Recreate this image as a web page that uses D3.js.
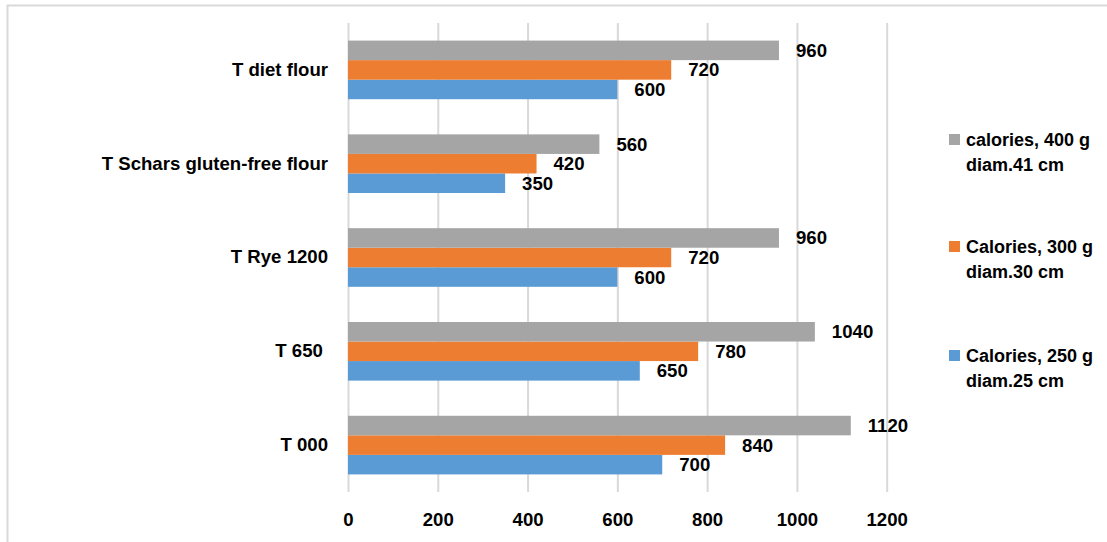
<!DOCTYPE html>
<html><head><meta charset="utf-8">
<script src="https://cdn.jsdelivr.net/npm/d3@7/dist/d3.min.js"></script>
<style>
body{margin:0;background:#fff;}
text{font-family:"Liberation Sans Narrow","Liberation Sans",Arial,sans-serif;font-weight:bold;fill:#000;}
</style></head><body>
<svg id="c" width="1107" height="542"></svg>
<script>
const categories = ["T 000", "T 650\u00a0", "T Rye 1200", "T Schars gluten-free flour", "T diet flour"];
const seriesNames = ["Calories, 250 g|diam.25 cm", "Calories, 300 g|diam.30 cm", "calories, 400 g|diam.41 cm"];
const cal250 = [700, 650, 600, 350, 600];
const cal300 = [840, 780, 720, 420, 720];
const cal400 = [1120, 1040, 960, 560, 960];
const xTicks = [0, 200, 400, 600, 800, 1000, 1200];
const colors = ["#5B9BD5", "#ED7D31", "#A5A5A5"];

(function(){
const fs = "18.6px";
const svg = d3.select("#c");
svg.append("rect").attr("x",7.5).attr("y",5.5).attr("width",1120).attr("height",560)
  .attr("fill","none").attr("stroke","#D9D9D9").attr("stroke-width",2);

const pLeft = 348, pRight = 886.7, pTop = 23, pBottom = 492;
const x = d3.scaleLinear().domain([0,1200]).range([pLeft,pRight]);
const y = d3.scaleBand().domain(categories).range([pBottom, pTop]).paddingInner(0.375).paddingOuter(0.1875);

const series = [cal250, cal300, cal400];
const inner = d3.scaleBand().domain([2,1,0]).range([0, y.bandwidth()]);

const xAxis = d3.axisBottom(x).tickValues(xTicks).tickSize(-(pBottom-pTop)).tickFormat(d3.format("d"));
const gx = svg.append("g").attr("transform",`translate(0,${pBottom})`).call(xAxis);
gx.select(".domain").remove();
gx.selectAll(".tick line").attr("stroke","#D9D9D9").attr("stroke-width",2);
gx.selectAll(".tick text").attr("y",28).attr("dy","0.32em").style("font-size",fs).attr("fill","#000");

const yAxis = d3.axisLeft(y).tickSize(0).tickPadding(20);
const gy = svg.append("g").attr("transform",`translate(${pLeft},0)`).call(yAxis);
gy.select(".domain").remove();
gy.selectAll(".tick text").style("font-size",fs).style("white-space","pre").attr("fill","#000");

series.forEach((vals, si) => {
  const g = svg.append("g");
  g.selectAll("rect").data(vals).join("rect")
    .attr("x", x(0))
    .attr("y", (d,i) => y(categories[i]) + inner(si))
    .attr("width", d => x(d) - x(0))
    .attr("height", inner.bandwidth())
    .attr("fill", colors[si]);
  g.selectAll("text").data(vals).join("text")
    .attr("x", d => x(d) + 17)
    .attr("y", (d,i) => y(categories[i]) + inner(si) + inner.bandwidth()/2)
    .attr("dy","0.35em")
    .style("font-size",fs)
    .text(d => d);
});

const legendY = [356, 247, 140];
seriesNames.forEach((name, si) => {
  const lines = name.split("|");
  const g = svg.append("g");
  g.append("rect").attr("x",949).attr("y",legendY[si]-6).attr("width",11).attr("height",11).attr("fill",colors[si]);
  lines.forEach((ln, li) => {
    g.append("text").attr("x",966).attr("y",legendY[si] + li*25).attr("dy","0.35em")
      .style("font-size","18px").text(ln);
  });
});
})();
</script>
</body></html>
